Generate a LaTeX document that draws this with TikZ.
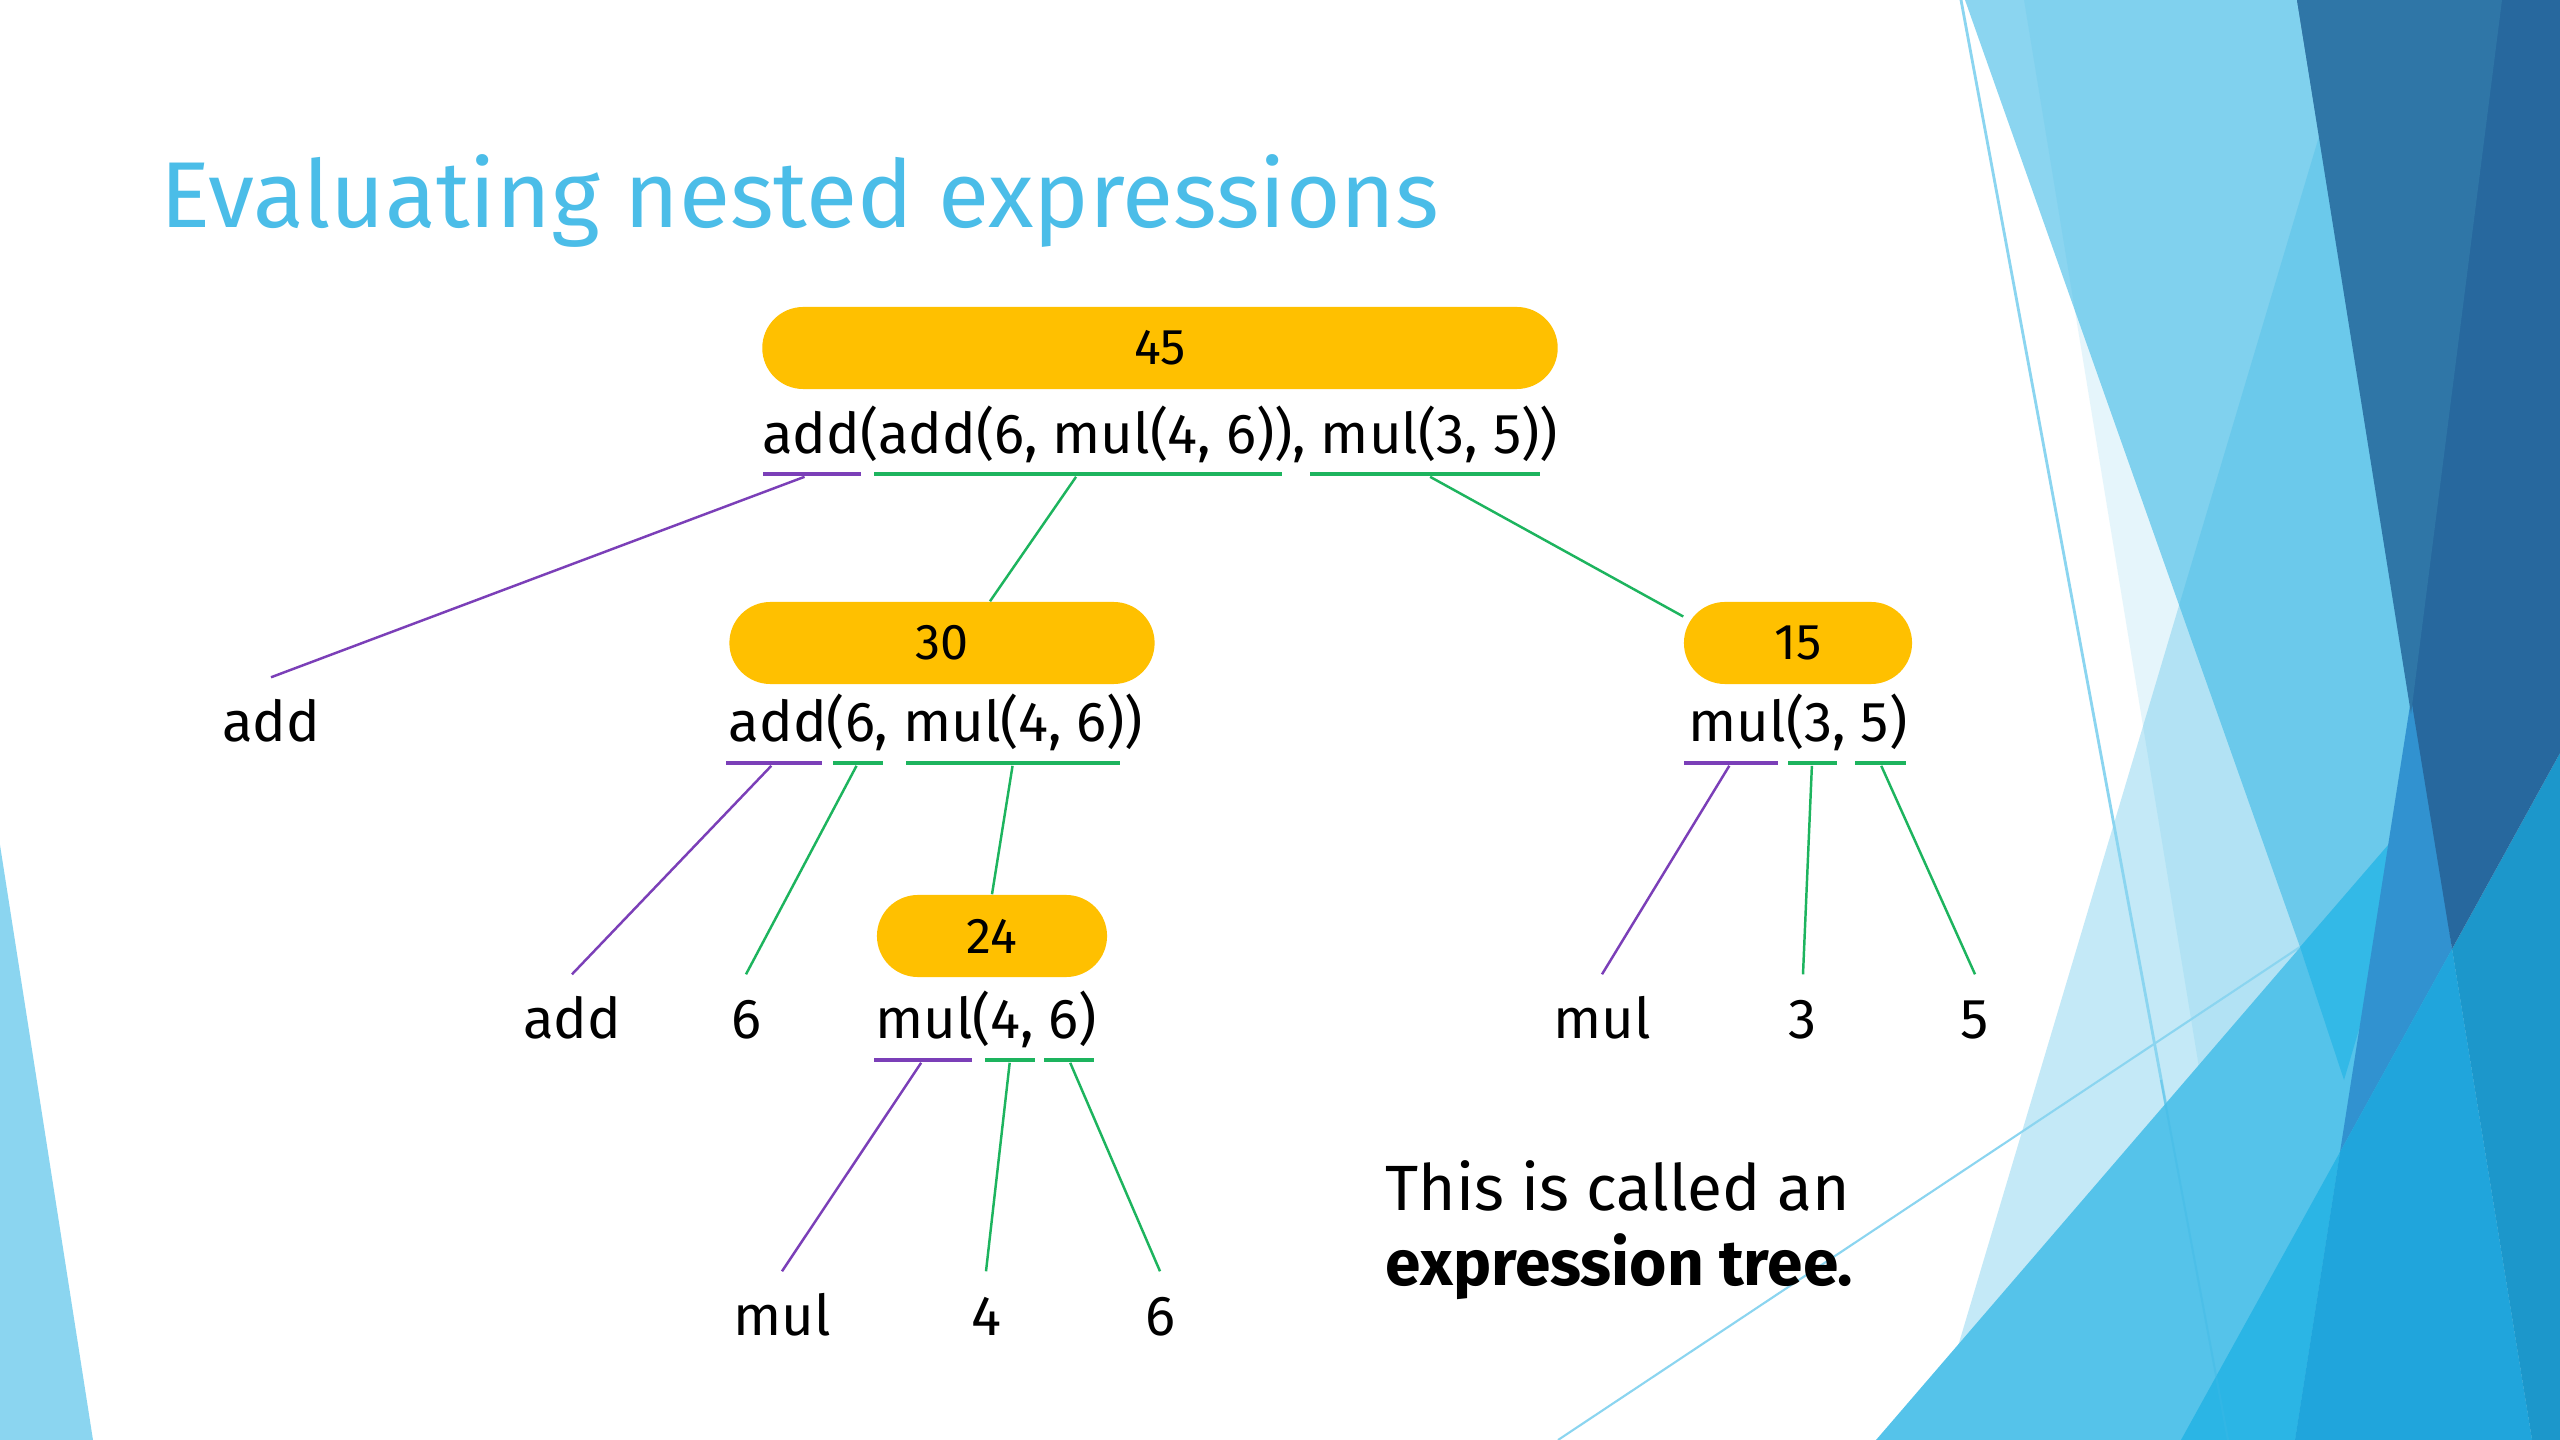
\documentclass[tikz,border=0pt]{standalone}
\usepackage{fontspec}
\setmainfont{Fira Sans}
\usetikzlibrary{positioning,calc}
\definecolor{titleblue}{HTML}{4BBDE8}
\definecolor{pillgold}{HTML}{FFC000}
\definecolor{oppurple}{HTML}{7B3FB8}
\definecolor{arggreen}{HTML}{1DB45E}
\definecolor{facetlight}{HTML}{8BD5F0}
\definecolor{facettint}{HTML}{3DB9E6}
\definecolor{facetdark}{HTML}{27689E}
\definecolor{facetsteel}{HTML}{2F76A7}
\definecolor{facetbright}{HTML}{33B9E7}
\definecolor{facetmid}{HTML}{2BB5E5}
\definecolor{facetsky}{HTML}{55C3EA}
\definecolor{facetdeep}{HTML}{20A5DC}
\definecolor{facetnavy}{HTML}{1C97CB}
\definecolor{facetcobalt}{HTML}{3192D0}

\begin{document}
\begin{tikzpicture}[x=0.01cm, y=-0.01cm,
    pill/.style={rectangle, fill=pillgold, rounded corners=0.41cm,
      minimum height=0.82cm, inner sep=0pt, font=\fontsize{14.3}{17}\selectfont},
    expr/.style={inner sep=0pt, text height=11.2pt, text depth=0pt,
      font=\fontsize{16}{19}\selectfont},
    leaf/.style={inner xsep=0pt, inner ysep=0.243cm, text height=11.2pt,
      text depth=0pt, font=\fontsize{16}{19}\selectfont},
    opbar/.style={rectangle, fill=oppurple, minimum height=1.2pt, inner sep=0pt},
    argbar/.style={rectangle, fill=arggreen, minimum height=1.2pt, inner sep=0pt},
    oplink/.style={draw=oppurple, line width=0.7pt},
    arglink/.style={draw=arggreen, line width=0.7pt},
    note/.style={anchor=base west, inner sep=0pt, font=\fontsize{18.2}{21}\selectfont}
  ]
  \useasboundingbox (0,0) rectangle (2560,1440);
  \fill[white] (0,0) rectangle (2560,1440);

  % facet background
  \fill[facetlight] (0,845) -- (93,1440) -- (0,1440) -- cycle;
  \fill[facetlight] (1965,0) -- (2297,0) -- (2451,947) -- (2300,947) -- cycle;
  \fill[facettint, opacity=0.13] (2024,0) -- (2560,0) -- (2560,1440) -- (2260,1440) -- cycle;
  \fill[facettint, opacity=0.3] (2320,133) -- (2451,947) -- (1930,1440) -- cycle;
  \draw[facetlight, line width=0.8pt] (1961,0) -- (2228,1440);
  \draw[facetlight, line width=0.6pt] (1558,1440) -- (2300,947);
  \fill[facetsky] (1876,1440) -- (2427,800) -- (2452,949) -- (2532,1440) -- cycle;
  \fill[facetbright] (2300,947) -- (2427,800) -- (2344,1080) -- cycle;
  \fill[facetmid] (2181,1440) -- (2340,1152) -- (2295,1440) -- cycle;
  \fill[facetcobalt] (2340,1152) -- (2414,680) -- (2452,949) -- cycle;
  \fill[facetdeep] (2295,1440) -- (2340,1152) -- (2452,949) -- (2532,1440) -- cycle;
  \fill[facetnavy] (2452,949) -- (2560,753) -- (2560,1440) -- (2532,1440) -- cycle;
  \fill[facetdark] (2297,0) -- (2560,0) -- (2560,753) -- (2452,949) -- cycle;
  \fill[facetsteel] (2297,0) -- (2502,0) -- (2411,714) -- cycle;
  \draw[facettint, opacity=0.35, line width=0.6pt] (2161,1080) -- (2228,1440);

  \node[anchor=base west, inner sep=0pt, text=titleblue,
    font=\fontsize{26.6}{31}\selectfont] (title) at (160,228) {Evaluating nested expressions};

  \node[pill, minimum width=7.95cm] (p45) at (1160,348) {45};
  \node[expr] (e45) at (1160,434) {add(add(6, mul(4, 6)), mul(3, 5))};
  \node[opbar, minimum width=0.98cm] (k45op) at (812,474) {};
  \node[argbar, minimum width=4.07cm] (k45a) at (1078,474) {};
  \node[argbar, minimum width=2.30cm] (k45b) at (1425,474) {};

  \node[pill, minimum width=4.25cm] (p30) at (942,643) {30};
  \node[expr] (e30) at (936,722) {add(6, mul(4, 6))};
  \node[opbar, minimum width=0.95cm] (k30op) at (774,763) {};
  \node[argbar, minimum width=0.50cm] (k30a) at (858,763) {};
  \node[argbar, minimum width=2.14cm] (k30b) at (1013,763) {};

  \node[pill, minimum width=2.28cm] (p15) at (1798,643) {15};
  \node[expr] (e15) at (1798,722) {mul(3, 5)};
  \node[opbar, minimum width=0.94cm] (k15op) at (1731,763) {};
  \node[argbar, minimum width=0.49cm] (k15a) at (1812,763) {};
  \node[argbar, minimum width=0.51cm] (k15b) at (1880,763) {};

  \node[pill, minimum width=2.30cm] (p24) at (992,936) {24};
  \node[expr] (e24) at (986,1019) {mul(4, 6)};
  \node[opbar, minimum width=0.98cm] (k24op) at (923,1060) {};
  \node[argbar, minimum width=0.49cm] (k24a) at (1010,1060) {};
  \node[argbar, minimum width=0.49cm] (k24b) at (1069,1060) {};

  \node[leaf] (add1) at (271,722) {add};
  \node[leaf] (add2) at (572,1019) {add};
  \node[leaf] (six1) at (746,1019) {6};
  \node[leaf] (mul1) at (1602,1019) {mul};
  \node[leaf] (three) at (1803,1019) {3};
  \node[leaf] (five) at (1975,1019) {5};
  \node[leaf] (mul2) at (782,1316) {mul};
  \node[leaf] (four) at (986,1316) {4};
  \node[leaf] (six2) at (1160,1316) {6};

  \draw[oplink] (k45op) -- (add1.north);
  \draw[arglink] (k45a) -- ($(p30.north)+(48,0)$);
  \draw[arglink] (k45b) -- (p15.167);
  \draw[oplink] (k30op) -- (add2.north);
  \draw[arglink] (k30a) -- (six1.north);
  \draw[arglink] (k30b) -- (p24.north);
  \draw[oplink] (k15op) -- (mul1.north);
  \draw[arglink] (k15a) -- (three.north);
  \draw[arglink] (k15b) -- (five.north);
  \draw[oplink] (k24op) -- (mul2.north);
  \draw[arglink] (k24a) -- (four.north);
  \draw[arglink] (k24b) -- (six2.north);

  \node[note] (note1) at (1385,1210) {This is called an};
  \node[note, font=\fontsize{18.2}{21}\selectfont\bfseries] (note2) at (1385,1285) {expression tree.};
\end{tikzpicture}
\end{document}
